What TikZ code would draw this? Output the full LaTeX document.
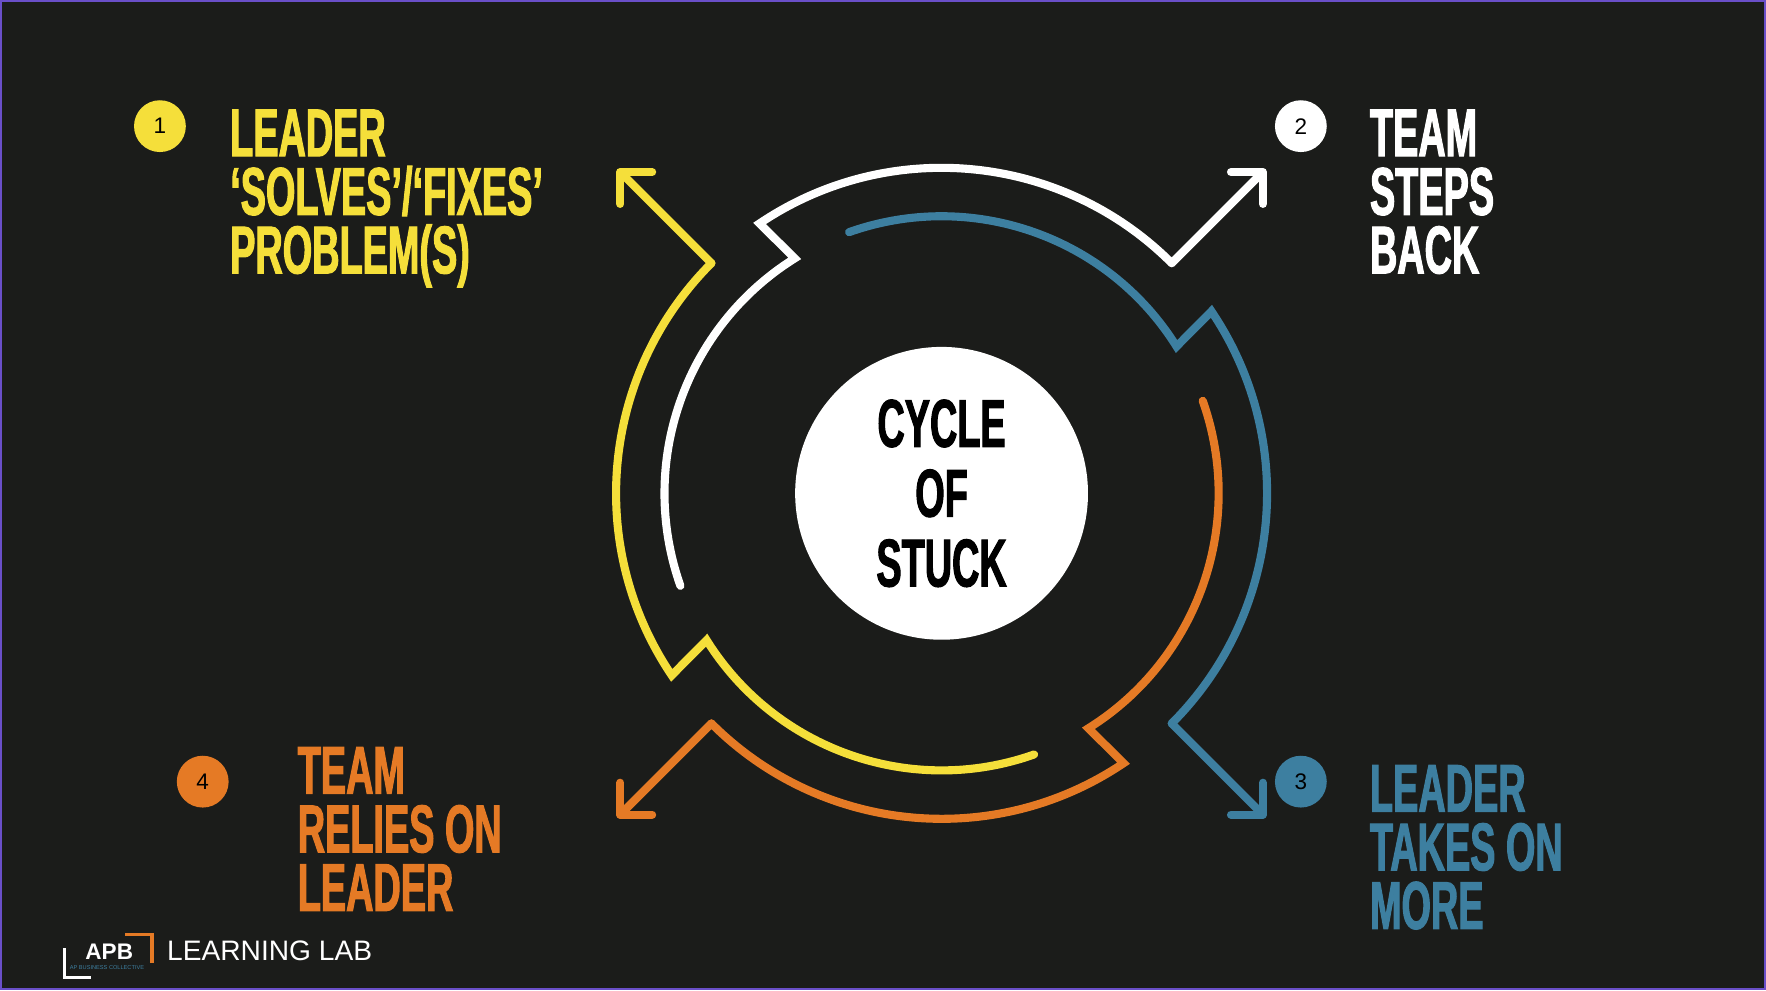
\documentclass[tikz,border=0pt]{standalone}
\usepackage{fontspec}
\setmainfont{Liberation Sans}
\newfontfamily\cond[FakeStretch=0.56,FakeBold=1.5]{Liberation Sans Bold}
\usetikzlibrary{arrows.meta,calc}
\definecolor{bg}{HTML}{1B1C1A}
\definecolor{cy}{HTML}{F5DF3A}
\definecolor{cb}{HTML}{3D7FA0}
\definecolor{co}{HTML}{E57A25}
\definecolor{frame}{HTML}{6A4FC8}
\begin{document}
\begin{tikzpicture}[x=0.5pt,y=-0.5pt,
  cyc/.style={line width=3.6pt,line join=miter,line cap=round},
  arr/.style={cyc,-{Straight Barb[length=10pt,width=20pt,line width=3.6pt,round]}},
  big/.style={font=\cond\fontsize{30}{26}\selectfont,align=left,anchor=north west,inner sep=0},
  num/.style={circle,minimum size=23pt,inner sep=0,font=\fontsize{10}{10}\selectfont}]
\fill[bg] (0,0) rectangle (1568,879);
\draw[frame,line width=1pt] (1,1) rectangle (1567,878);
\coordinate (C) at (836,438);
% yellow
\draw[cyc,cy] ($(C)+(225:289)$) coordinate (y0) arc[start angle=225,end angle=146,radius=289] -- ($(C)+(148:246)$) arc[start angle=148,end angle=70.5,radius=246];
% white
\draw[cyc,white] ($(C)+(315:289)$) coordinate (w0) arc[start angle=315,end angle=236,radius=289] -- ($(C)+(238:246)$) arc[start angle=238,end angle=160.5,radius=246];
% blue
\draw[cyc,cb] ($(C)+(45:289)$) coordinate (b0) arc[start angle=45,end angle=-34,radius=289] -- ($(C)+(-32:246)$) arc[start angle=-32,end angle=-109.5,radius=246];
% orange
\draw[cyc,co] ($(C)+(135:289)$) coordinate (o0) arc[start angle=135,end angle=56,radius=289] -- ($(C)+(58:246)$) arc[start angle=58,end angle=-19.5,radius=246];
\coordinate (y1) at ($(y0)+(225:118)$);
\coordinate (w1) at ($(w0)+(315:118)$);
\coordinate (b1) at ($(b0)+(45:118)$);
\coordinate (o1) at ($(o0)+(135:118)$);
\draw[arr,cy] (y0) -- (y1);
\draw[arr,white] (w0) -- (w1);
\draw[arr,cb] (b0) -- (b1);
\draw[arr,co] (o0) -- (o1);
\node[circle,fill=white,minimum size=130pt,inner sep=0,font=\cond\fontsize{30}{31}\selectfont,align=center] (c) at (C) {CYCLE\\OF\\STUCK};
\node[num,fill=cy] (n1) at (142,112) {1};
\node[num,fill=white] (n2) at (1155,112) {2};
\node[num,fill=cb] (n3) at (1155,694) {3};
\node[num,fill=co] (n4) at (180,694) {4};
\node[big,text=cy] (t1) at (204,97) {LEADER\\‘SOLVES’/‘FIXES’\\PROBLEM(S)};
\node[big,text=white] (t2) at (1216,97) {TEAM\\STEPS\\BACK};
\node[big,text=cb] (t3) at (1216,679) {LEADER\\TAKES ON\\MORE};
\node[big,text=co] (t4) at (264,663) {TEAM\\RELIES ON\\LEADER};
% logo
\draw[white,line width=1.2pt] (57,842) -- (57,868) -- (81,868);
\draw[co,line width=1.4pt] (111,830) -- (135,830) -- (135,855);
\node[white,font=\bfseries\fontsize{10}{10}\selectfont,inner sep=0] (apb) at (97,845) {APB};
\node[cb,font=\fontsize{2.5}{3}\selectfont,inner sep=0] (apbs) at (95,859) {AP BUSINESS COLLECTIVE};
\node[white,font=\fontsize{12.5}{13}\selectfont,anchor=west,inner sep=0] (ll) at (148,844) {LEARNING LAB};
\end{tikzpicture}
\end{document}
